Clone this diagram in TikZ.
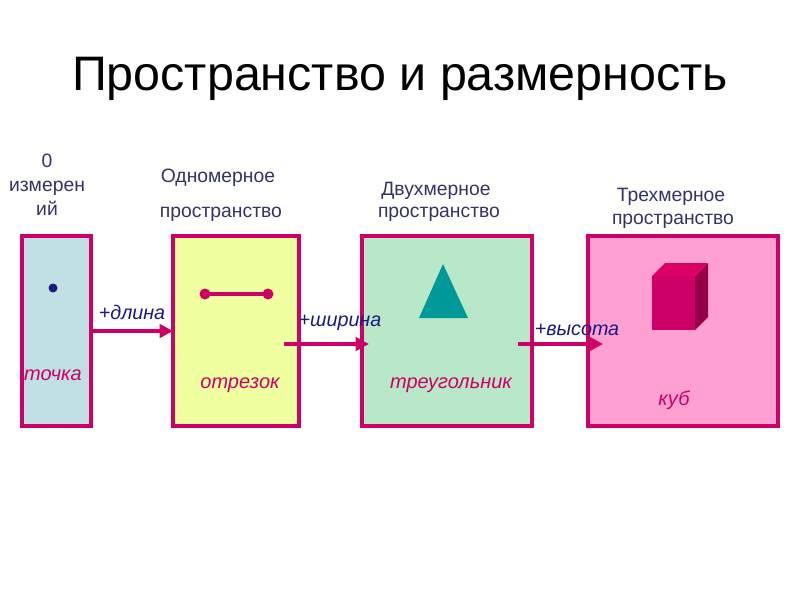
\documentclass[tikz,border=0pt]{standalone}
\usepackage{fontspec}
\setmainfont{Liberation Sans}
\usetikzlibrary{arrows.meta}
\definecolor{mag}{HTML}{CC0066}
\definecolor{txt}{HTML}{333366}
\definecolor{navy}{HTML}{1A1A80}
\begin{document}
\begin{tikzpicture}[x=0.75pt,y=-0.75pt,
  boxst/.style={draw=mag,line width=2.3pt},
  hdr/.style={text=txt,font=\fontsize{14.5}{18}\selectfont,align=center},
  lbl/.style={text=mag,font=\fontsize{15}{18}\selectfont\itshape},
  plus/.style={text=navy,font=\fontsize{14.8}{18}\selectfont\itshape},
  arr/.style={draw=mag,line width=3pt,-{Triangle[length=10pt,width=10pt]}}]
\useasboundingbox (0,0) rectangle (800,600);
\fill[white] (0,0) rectangle (800,600);
\node (title) at (400,79) {\fontsize{36.3}{44}\selectfont Пространство и размерность};
% boxes
\draw[boxst,fill={rgb,255:red,192;green,224;blue,228}] (22,236) rectangle (91,426);
\draw[boxst,fill={rgb,255:red,240;green,255;blue,160}] (173,236) rectangle (299,426);
\draw[boxst,fill={rgb,255:red,184;green,232;blue,200}] (362,236) rectangle (532,426);
\draw[boxst,fill={rgb,255:red,255;green,160;blue,210}] (588,236) rectangle (778,426);
% headers
\node[hdr] (h0) at (47,185) {0\\измерен\\ий};
\node[hdr] (h1a) at (218,178) {Одномерное};
\node[hdr] (h1b) at (221,214) {пространство};
\node[hdr] (h2a) at (436,191) {Двухмерное};
\node[hdr] (h2b) at (439,214) {пространство};
\node[hdr] (h3a) at (671,197) {Трехмерное};
\node[hdr] (h3b) at (673,221) {пространство};
% contents
\fill[navy] (53,288) circle (4.5);
\draw[mag,line width=2.8pt] (205,294) -- (268,294);
\fill[mag] (205,294) circle (5.5) (268,294) circle (5.5);
\fill[fill={rgb,255:red,0;green,153;blue,153}] (443,264) -- (468,318) -- (419,318) -- cycle;
\fill[fill={rgb,255:red,150;green,0;blue,70}] (695,276) -- (708,263) -- (708,317) -- (695,330) -- cycle;
\fill[fill={rgb,255:red,220;green,0;blue,100}] (652,276) -- (665,263) -- (708,263) -- (695,276) -- cycle;
\fill[fill={rgb,255:red,204;green,0;blue,102}] (652,276) rectangle (695,330);
% labels
\node[lbl] (l0) at (53,375) {точка};
\node[lbl] (l1) at (240,385) {отрезок};
\node[lbl] (l2) at (451,385) {треугольник};
\node[lbl] (l3) at (674,400) {куб};
% arrows
\coordinate (a1s) at (91,331); \coordinate (a1e) at (173,331);
\coordinate (a2s) at (284,344); \coordinate (a2e) at (369,344);
\coordinate (a3s) at (518,344); \coordinate (a3e) at (603,344);
\draw[arr] (a1s) -- (a1e);
\draw[arr] (a2s) -- (a2e);
\draw[arr] (a3s) -- (a3e);
\node[plus] (p1) at (132,312) {+длина};
\node[plus] (p2) at (340,323) {+ширина};
\node[plus] (p3) at (577,330) {+высота};
\end{tikzpicture}
\end{document}
